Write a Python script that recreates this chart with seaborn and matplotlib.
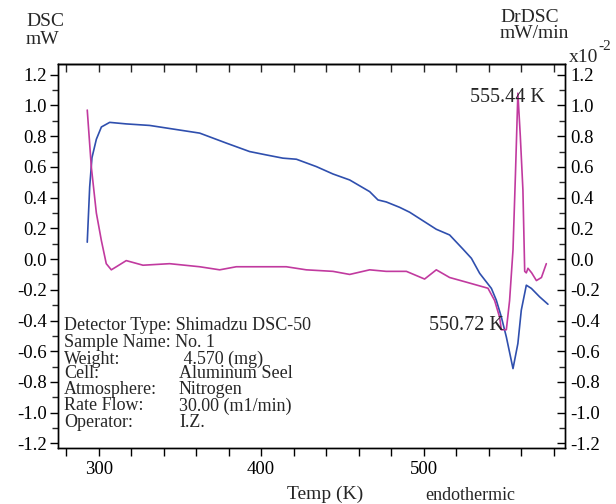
import matplotlib
matplotlib.use("Agg")
import matplotlib.pyplot as plt
import seaborn as sns
import pandas as pd
from matplotlib.ticker import MultipleLocator, NullFormatter

# ---- data ----
dsc_temp = [293.0, 294.5, 295.9, 298.6, 301.7, 306.8, 317.0, 331.4, 343.7, 362.2,
            378.6, 392.9, 403.2, 413.4, 421.7, 434.0, 444.2, 454.5, 466.8, 471.9,
            477.0, 485.2, 491.4, 507.8, 516.0, 524.2, 529.4, 534.5, 541.7, 544.7,
            547.8, 550.9, 555.0, 558.0, 560.1, 563.2, 566.3, 571.4, 576.5]
dsc_mw = [0.11, 0.47, 0.66, 0.78, 0.86, 0.89, 0.88, 0.87, 0.85, 0.82,
          0.755, 0.70, 0.678, 0.657, 0.650, 0.602, 0.554, 0.515, 0.439, 0.385,
          0.372, 0.337, 0.305, 0.194, 0.157, 0.065, 0.005, -0.093, -0.191, -0.267,
          -0.376, -0.507, -0.713, -0.550, -0.333, -0.170, -0.191, -0.246, -0.294]

dr_temp = [293.0, 295.5, 298.6, 301.7, 304.7, 307.8, 310.9, 317.0, 327.3, 343.7,
           362.2, 374.5, 384.7, 403.2, 415.5, 427.8, 444.2, 454.5, 466.8, 477.0,
           489.4, 500.6, 507.8, 516.0, 526.2, 539.6, 543.7, 546.8, 547.8, 550.9,
           552.9, 555.0, 556.5, 558.0, 559.5, 561.1, 562.2, 563.2, 564.2, 566.5,
           569.4, 572.5, 575.5]
dr_val = [0.97, 0.60, 0.30, 0.12, -0.03, -0.07, -0.05, -0.01, -0.04, -0.03,
          -0.05, -0.07, -0.05, -0.05, -0.05, -0.07, -0.08, -0.10, -0.07, -0.08,
          -0.08, -0.13, -0.07, -0.12, -0.15, -0.19, -0.27, -0.38, -0.46, -0.46,
          -0.27, 0.06, 0.55, 1.08, 0.80, 0.45, -0.08, -0.09, -0.06, -0.09,
          -0.14, -0.12, -0.03]

info_keys = ["Weight:", "Cell:", "Atmosphere:", "Rate Flow:", "Operator:"]
info_vals = [" 4.570 (mg)", "Aluminum Seel", "Nitrogen", "30.00 (m1/min)", "I.Z."]

blue = "#2f4fae"
magenta = "#c13a9f"

sns.set_theme(style="ticks")
plt.rcParams["font.family"] = ["Liberation Serif", "DejaVu Serif"]
plt.rcParams["axes.linewidth"] = 1.0

W, H = 616, 504
fig = plt.figure(figsize=(W / 100, H / 100), dpi=100)
ax = fig.add_axes([58 / W, 1 - 448 / H, (565 - 58) / W, (448 - 64) / H])

df_dsc = pd.DataFrame({"T": dsc_temp, "v": dsc_mw})
df_dr = pd.DataFrame({"T": dr_temp, "v": dr_val})

sns.lineplot(data=df_dsc, x="T", y="v", ax=ax, color=blue, lw=1.2,
             sort=False, estimator=None)
ax2 = ax.twinx()
sns.lineplot(data=df_dr, x="T", y="v", ax=ax2, color=magenta, lw=1.2,
             sort=False, estimator=None)

for a in (ax, ax2):
    a.set_xlim(275, 587)
    a.set_ylim(-1.23, 1.27)
    a.set_xlabel("")
    a.set_ylabel("")
    a.yaxis.set_major_locator(MultipleLocator(0.2))
    a.yaxis.set_minor_locator(MultipleLocator(0.1))
    for s in a.spines.values():
        s.set_color("black")

ax.xaxis.set_major_locator(MultipleLocator(100))
ax.xaxis.set_minor_locator(MultipleLocator(20))
ax.set_xticks([300, 400, 500])
ax.set_xticklabels(["300", "400", "500"])
ax.set_yticks([-1.2, -1.0, -0.8, -0.6, -0.4, -0.2, 0.0, 0.2, 0.4, 0.6, 0.8, 1.0, 1.2])
ax.set_yticklabels(["-1.2", "-1.0", "-0.8", "-0.6", "-0.4", "-0.2", "0.0",
                    "0.2", "0.4", "0.6", "0.8", "1.0", "1.2"])
ax2.set_yticks([-1.2, -1.0, -0.8, -0.6, -0.4, -0.2, 0.0, 0.2, 0.4, 0.6, 0.8, 1.0, 1.2])
ax2.set_yticklabels(["-1.2", "-1.0", "-0.8", "-0.6", "-0.4", "-0.2", "0.0",
                     "0.2", "0.4", "0.6", "0.8", "1.0", "1.2"])

ax.tick_params(axis="x", which="both", direction="out", length=6, width=1,
               labelsize=13.5, pad=3, colors="black")
ax.tick_params(axis="y", which="major", direction="out", length=6, width=1,
               labelsize=13.5, pad=2, colors="black")
ax.tick_params(axis="y", which="minor", direction="out", length=4, width=1)
ax2.tick_params(axis="y", which="major", direction="in", length=6, width=1,
                labelsize=13.5, pad=4, colors="black")
ax2.tick_params(axis="y", which="minor", direction="in", length=4, width=1)

sec = ax.secondary_xaxis("top")
sec.xaxis.set_major_locator(MultipleLocator(20))
sec.xaxis.set_major_formatter(NullFormatter())
sec.tick_params(axis="x", direction="in", length=6, width=1)

# annotations
ax2.text(574.5, 1.05, "555.44 K", ha="right", va="center", fontsize=14.5)
ax2.text(549.2, -0.43, "550.72 K", ha="right", va="center", fontsize=14.5)

# axis titles
fig.text(26 / W, 1 - 22 / H, "DSC", ha="left", va="center", fontsize=14)
fig.text(26 / W, 1 - 40 / H, "mW", ha="left", va="center", fontsize=14)
fig.text(500 / W, 1 - 17 / H, "DrDSC", ha="left", va="center", fontsize=14)
fig.text(500 / W, 1 - 34 / H, "mW/min", ha="left", va="center", fontsize=14)
fig.text(569 / W, 1 - 58 / H, "x10", ha="left", va="center", fontsize=14)
fig.text(598 / W, 1 - 47 / H, "-2", ha="left", va="center", fontsize=11)
fig.text(325 / W, 1 - 494 / H, "Temp (K)", ha="center", va="center", fontsize=14)
fig.text(470 / W, 1 - 496 / H, "endothermic", ha="center", va="center", fontsize=13)

# info block
fig.text(64 / W, 1 - 326 / H, "Detector Type: Shimadzu DSC-50", ha="left", va="center", fontsize=13)
fig.text(64 / W, 1 - 342.7 / H, "Sample Name: No. 1", ha="left", va="center", fontsize=13)
ys = [359, 374, 390, 406, 422.7]
for k, v, y in zip(info_keys, info_vals, ys):
    fig.text(64 / W, 1 - y / H, k, ha="left", va="center", fontsize=13)
    fig.text(179 / W, 1 - y / H, v, ha="left", va="center", fontsize=13)

fig.savefig("out.png", dpi=100)
